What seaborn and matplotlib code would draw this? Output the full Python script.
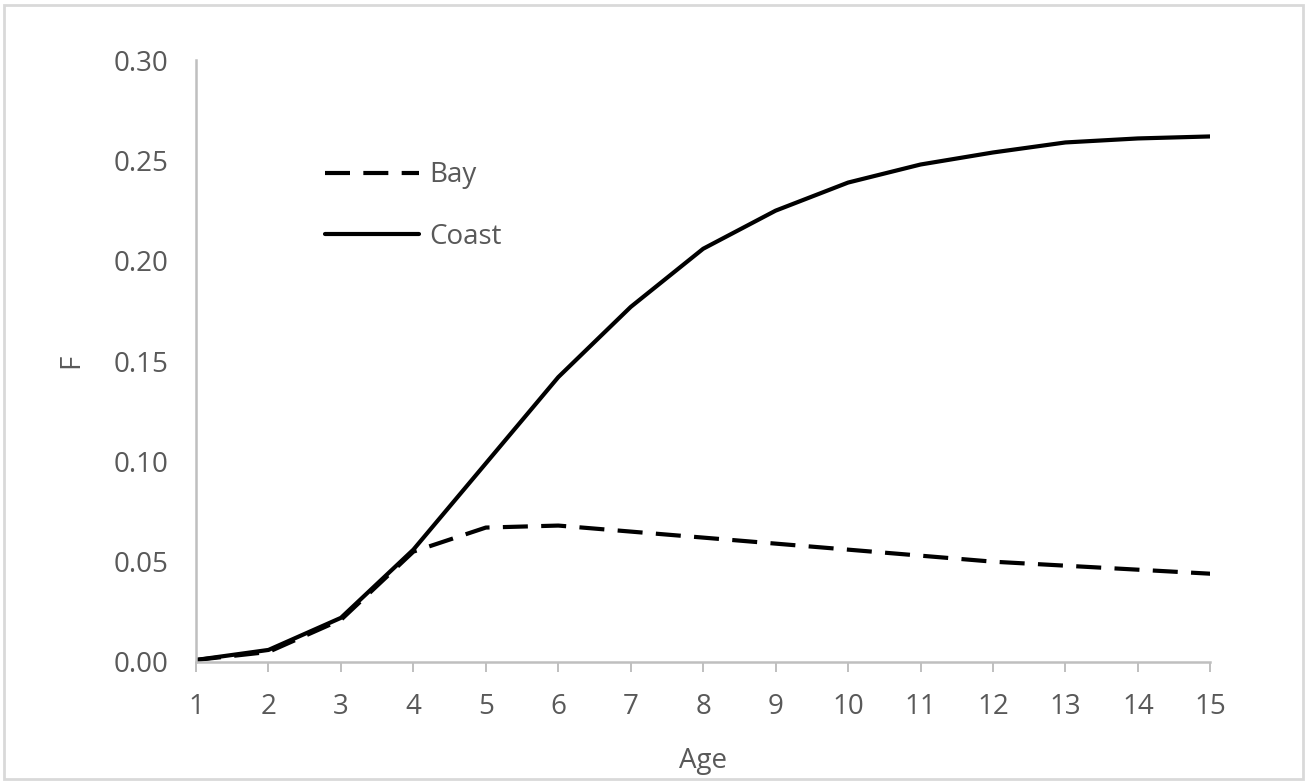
import matplotlib
matplotlib.use("Agg")
import matplotlib.pyplot as plt
import pandas as pd
import seaborn as sns
from matplotlib.patches import Rectangle

# values
ages = [1, 2, 3, 4, 5, 6, 7, 8, 9, 10, 11, 12, 13, 14, 15]
bay = [0.001, 0.005, 0.021, 0.055, 0.067, 0.068, 0.065, 0.062, 0.059,
       0.056, 0.053, 0.050, 0.048, 0.046, 0.044]
coast = [0.001, 0.006, 0.022, 0.056, 0.099, 0.142, 0.177, 0.206, 0.225,
         0.239, 0.248, 0.254, 0.259, 0.261, 0.262]
y_ticks = [0.00, 0.05, 0.10, 0.15, 0.20, 0.25, 0.30]

df = pd.concat([
    pd.DataFrame({'Age': ages, 'F': bay, 'Site': 'Bay'}),
    pd.DataFrame({'Age': ages, 'F': coast, 'Site': 'Coast'}),
])

sns.set_style('white')
plt.rcParams['font.family'] = ['Open Sans', 'DejaVu Sans']
grey = '#595959'
axis_grey = '#bfbfbf'

fig = plt.figure(figsize=(13.07, 7.82), dpi=100)
ax = fig.add_axes([0.15, 0.1535, 0.776, 0.7695])

sns.lineplot(data=df, x='Age', y='F', style='Site',
             dashes={'Bay': (6, 3.2), 'Coast': ''},
             color='black', linewidth=3.0, ax=ax, legend=False)

ax.set_xlim(1, 15)
ax.set_ylim(0, 0.30)
ax.set_xticks(ages)
ax.set_yticks(y_ticks)
ax.set_yticklabels([f'{v:.2f}' for v in y_ticks])

for side in ['top', 'right']:
    ax.spines[side].set_visible(False)
for side in ['left', 'bottom']:
    ax.spines[side].set_color(axis_grey)
    ax.spines[side].set_linewidth(1.8)

ax.tick_params(axis='x', direction='out', length=7, width=1.4, color=axis_grey,
               labelsize=20, labelcolor=grey, pad=15, bottom=True)
ax.tick_params(axis='y', length=0, labelsize=20, labelcolor=grey, pad=20, left=False)

ax.set_xlabel('Age', fontsize=20, color=grey, labelpad=19)
ax.set_ylabel('F', fontsize=20, color=grey, labelpad=20)

lines = ax.get_lines()
leg = ax.legend(lines[:2], ['Bay', 'Coast'], loc='upper left',
                bbox_to_anchor=(0.127, 0.832), frameon=False, fontsize=20,
                handlelength=3.4, handletextpad=0.36, labelspacing=1.2,
                borderpad=0, borderaxespad=0, labelcolor=grey)

# light outer chart border like the spreadsheet frame
fig.patches.append(Rectangle((0.003, 0.004), 0.994, 0.99, transform=fig.transFigure,
                             fill=False, edgecolor='#d9d9d9', linewidth=2))

fig.savefig('out.png', dpi=100)
